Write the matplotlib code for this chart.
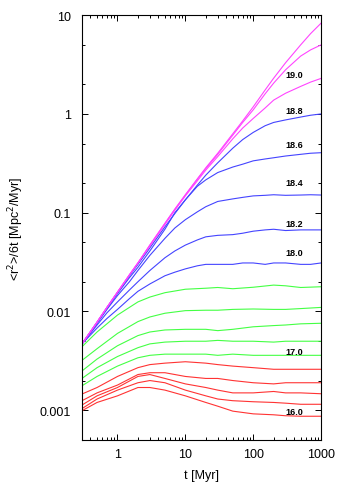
import numpy as np
import matplotlib
matplotlib.use('Agg')
import matplotlib.pyplot as plt
from matplotlib.ticker import LogLocator, NullFormatter, FixedLocator, FixedFormatter

plt.rcParams['font.family'] = ['Liberation Sans', 'DejaVu Sans']

# time samples [Myr]: coarse for the flat low-mass bins, finer for the bending high-mass bins
t_low = [0.3, 0.5, 1, 2, 3, 5, 10, 20, 30, 50, 100, 200, 300, 500, 1000]
t_high = [0.3, 0.5, 0.7, 1, 1.5, 2, 3, 5, 7, 10, 15, 20, 30, 50, 70, 100, 150, 200, 300, 500, 700, 1000]

# <r^2>/6t per mass bin (log M)
low_bins = {
    16.0: [0.00099, 0.0012, 0.0014, 0.0017, 0.0017, 0.0016, 0.0014, 0.0012, 0.0011, 0.00098, 0.00092, 0.0009, 0.00088, 0.00087, 0.00087],
    16.2: [0.00104, 0.0013, 0.0016, 0.0019, 0.0020, 0.0019, 0.0016, 0.0014, 0.0013, 0.00125, 0.00122, 0.0012, 0.00118, 0.00115, 0.00115],
    16.4: [0.00113, 0.0014, 0.0017, 0.0022, 0.0023, 0.0021, 0.00185, 0.0017, 0.0016, 0.0015, 0.0015, 0.00155, 0.0015, 0.0015, 0.00147],
    16.6: [0.00125, 0.0015, 0.0018, 0.0023, 0.0024, 0.0024, 0.0022, 0.0021, 0.0021, 0.0020, 0.0019, 0.00185, 0.0019, 0.0019, 0.0019],
    16.8: [0.00146, 0.0017, 0.0022, 0.0027, 0.0029, 0.0030, 0.0031, 0.0030, 0.0029, 0.0028, 0.0027, 0.0026, 0.0026, 0.0026, 0.0026],
    17.0: [0.00177, 0.0022, 0.0028, 0.0034, 0.0036, 0.0037, 0.0037, 0.0037, 0.0036, 0.0037, 0.0036, 0.0036, 0.0036, 0.0036, 0.0036],
    17.2: [0.0021, 0.0027, 0.0035, 0.0043, 0.0047, 0.0049, 0.0050, 0.0050, 0.0051, 0.0050, 0.0050, 0.0049, 0.0050, 0.0050, 0.0050],
    17.4: [0.0025, 0.0033, 0.0045, 0.0057, 0.0062, 0.0065, 0.0066, 0.0066, 0.0064, 0.0066, 0.0070, 0.0072, 0.0073, 0.0075, 0.0076],
    17.6: [0.0032, 0.0042, 0.0060, 0.0079, 0.0088, 0.0096, 0.0102, 0.0103, 0.0103, 0.0105, 0.0106, 0.0105, 0.0105, 0.0107, 0.0110],
    17.8: [0.0044, 0.0062, 0.0092, 0.0125, 0.0140, 0.0155, 0.0168, 0.0172, 0.0175, 0.0170, 0.0176, 0.0185, 0.0182, 0.0175, 0.0178],
}
high_bins = {
    18.0: [0.0047, 0.0068, 0.0085, 0.0105, 0.0135, 0.016, 0.019, 0.023, 0.025, 0.027, 0.029, 0.030, 0.030, 0.030, 0.031, 0.031, 0.030, 0.031, 0.031, 0.030, 0.030, 0.031],
    18.2: [0.0047, 0.0073, 0.0097, 0.0125, 0.0165, 0.020, 0.026, 0.035, 0.041, 0.047, 0.053, 0.057, 0.059, 0.060, 0.062, 0.065, 0.067, 0.068, 0.066, 0.067, 0.067, 0.067],
    18.4: [0.0047, 0.0076, 0.0105, 0.0145, 0.020, 0.026, 0.037, 0.055, 0.070, 0.085, 0.102, 0.115, 0.130, 0.138, 0.143, 0.148, 0.150, 0.152, 0.150, 0.151, 0.152, 0.151],
    18.6: [0.0047, 0.0077, 0.0108, 0.0152, 0.022, 0.028, 0.041, 0.068, 0.100, 0.135, 0.185, 0.215, 0.255, 0.29, 0.31, 0.335, 0.35, 0.36, 0.375, 0.39, 0.40, 0.405],
    18.8: [0.0047, 0.0078, 0.011, 0.0156, 0.023, 0.030, 0.044, 0.072, 0.098, 0.135, 0.19, 0.24, 0.32, 0.45, 0.55, 0.65, 0.76, 0.82, 0.87, 0.93, 0.97, 1.0],
    19.0: [0.0047, 0.0078, 0.011, 0.0157, 0.0235, 0.031, 0.046, 0.076, 0.106, 0.148, 0.21, 0.27, 0.37, 0.56, 0.72, 0.90, 1.15, 1.38, 1.62, 1.90, 2.10, 2.29],
    19.2: [0.0047, 0.0078, 0.011, 0.0157, 0.0235, 0.031, 0.047, 0.078, 0.108, 0.151, 0.218, 0.28, 0.39, 0.61, 0.82, 1.10, 1.60, 2.05, 2.80, 3.85, 4.45, 5.0],
    19.4: [0.0047, 0.0078, 0.011, 0.0157, 0.0235, 0.031, 0.047, 0.078, 0.109, 0.152, 0.22, 0.285, 0.40, 0.63, 0.85, 1.18, 1.75, 2.30, 3.30, 5.00, 6.50, 8.3],
}

# labelled bins and where their text sits (value axis)
label_bins = [19.0, 18.8, 18.6, 18.4, 18.2, 18.0, 17.0, 16.0]
label_y = [2.53, 1.085, 0.494, 0.2, 0.0785, 0.0396, 0.00394, 0.00098]


def colour_for(m):
    if m < 16.9:
        return '#ff3333'
    if m < 17.9:
        return '#44ff44'
    if m < 18.9:
        return '#4444ff'
    return '#ff44ff'


fig = plt.figure(figsize=(3.46, 4.85), dpi=100)
ax = fig.add_axes([0.237, 0.0907, 0.691, 0.876])

for m, v in low_bins.items():
    ax.plot(t_low, v, '-', color=colour_for(m), linewidth=0.8)
for m, v in high_bins.items():
    ax.plot(t_high, v, '-', color=colour_for(m), linewidth=0.8)

for m, y in zip(label_bins, label_y):
    ax.text(408, y, f'{m:.1f}', ha='center', va='center', fontsize=6.5, fontweight='bold')

ax.set_xscale('log')
ax.set_yscale('log')
ax.set_xlim(0.3, 1000)
ax.set_ylim(5e-4, 10)

ax.xaxis.set_major_locator(FixedLocator([1, 10, 100, 1000]))
ax.xaxis.set_major_formatter(FixedFormatter(['1', '10', '100', '1000']))
ax.xaxis.set_minor_locator(LogLocator(base=10, subs=np.arange(2, 10)))
ax.xaxis.set_minor_formatter(NullFormatter())
ax.yaxis.set_major_locator(FixedLocator([0.001, 0.01, 0.1, 1, 10]))
ax.yaxis.set_major_formatter(FixedFormatter(['0.001', '0.01', '0.1', '1', '10']))
ax.yaxis.set_minor_locator(LogLocator(base=10, subs=[2, 5]))
ax.yaxis.set_minor_formatter(NullFormatter())

ax.tick_params(which='both', direction='in', top=True, right=True, labelsize=9, width=0.7)
ax.tick_params(which='major', length=4)
ax.tick_params(axis='y', which='major', pad=8)
ax.tick_params(axis='x', which='major', pad=6)
ax.tick_params(which='minor', length=2)
for s in ax.spines.values():
    s.set_linewidth(0.8)

ax.set_xlabel('t [Myr]', fontsize=9, labelpad=6)
ax.set_ylabel(r'<r$^2$>/6t [Mpc$^2$/Myr]', fontsize=9, labelpad=10)

plt.savefig('out.png', dpi=100)
plt.close()
